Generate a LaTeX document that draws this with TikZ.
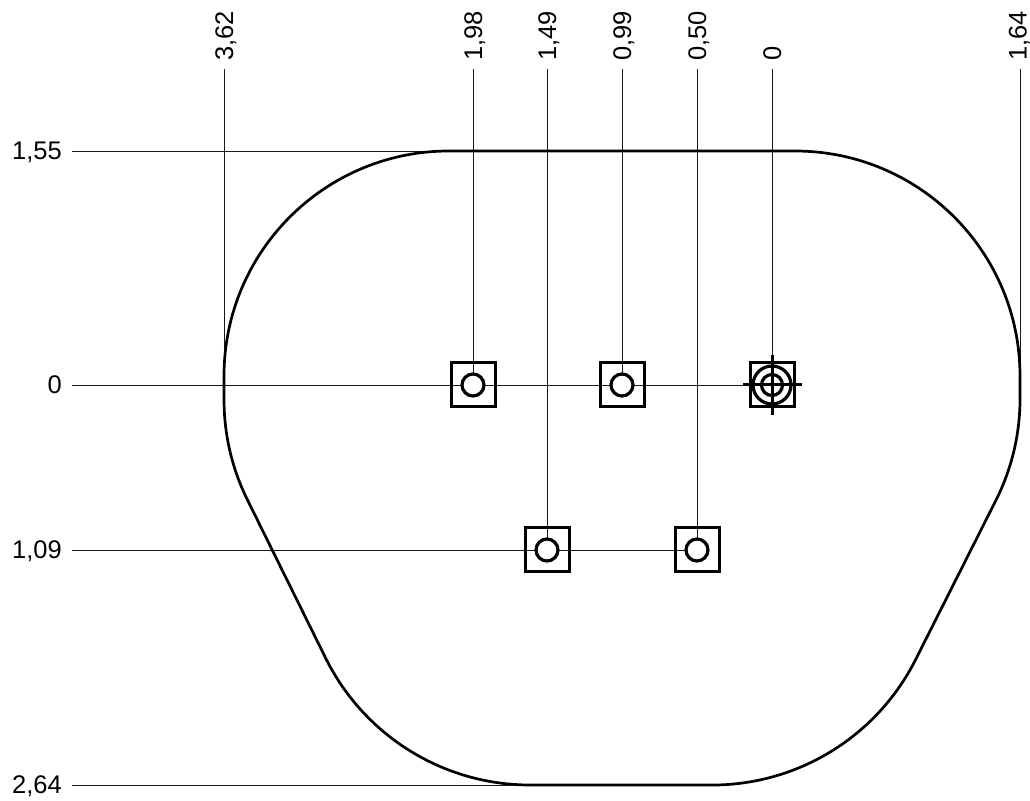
\documentclass[tikz,border=0pt]{standalone}
\usepackage{fontspec}
\setmainfont{Liberation Sans}
\usetikzlibrary{positioning, backgrounds}
\tikzset{
    outline/.style={
        draw=black,
        line width=2.7pt,
        line join=round
    },
    leader/.style={
        draw=black!90,
        line width=0.9pt
    },
    crossline/.style={
        draw=black,
        line width=3pt
    },
    holebox/.style={
        rectangle,
        draw=black,
        line width=3pt,
        minimum size=44pt,
        inner sep=0pt
    },
    holecircle/.style={
        circle,
        draw=black,
        fill=white,
        line width=3.2pt,
        minimum size=22pt,
        inner sep=0pt
    },
    toplabel/.style={
        rotate=90,
        anchor=west,
        inner xsep=8pt,
        inner ysep=0pt,
        text height=18pt,
        text depth=0pt,
        font=\fontsize{25.5}{25.5}\selectfont
    },
    sidelabel/.style={
        anchor=east,
        inner xsep=10pt,
        inner ysep=0pt,
        text height=18pt,
        text depth=0pt,
        font=\fontsize{25.5}{25.5}\selectfont
    }
}
\begin{document}
\begin{tikzpicture}[x=1pt, y=1pt]
\useasboundingbox (0,0) rectangle (1030,800);

% Part outline
\draw[outline] (449,649) -- (795,649)
    arc[start angle=90, end angle=0, radius=225pt] -- (1020,401)
    arc[start angle=0, end angle=-26.565, radius=225pt] -- (915.9,141)
    arc[start angle=-26.565, end angle=-90, radius=228pt] -- (530,15)
    arc[start angle=270, end angle=206.565, radius=228pt] -- (247.8,299.4)
    arc[start angle=206.565, end angle=180, radius=225pt] -- (224,424)
    arc[start angle=180, end angle=90, radius=225pt] -- cycle;

% Holes
\node[holebox] (hole_a) at (473,415) {};
\node[holecircle] (circ_a) at (473,415) {};
\node[holebox] (hole_b) at (622,415) {};
\node[holecircle] (circ_b) at (622,415) {};
\node[holebox] (hole_c) at (772,415) {};
\node[holebox] (hole_d) at (547,250) {};
\node[holecircle] (circ_d) at (547,250) {};
\node[holebox] (hole_e) at (697,250) {};
\node[holecircle] (circ_e) at (697,250) {};

% Origin mark
\node[holecircle, minimum size=38pt] (origin_out) at (772,415) {};
\node[holecircle, minimum size=21pt] (origin_in) at (772,415) {};
\coordinate (cross_w) at (743,415);
\coordinate (cross_e) at (802,415);
\coordinate (cross_n) at (772,445);
\coordinate (cross_s) at (772,385);
\draw[crossline] (cross_w) -- (cross_e);
\draw[crossline] (cross_n) -- (cross_s);

% Edge points
\coordinate (edge_left) at (224,415);
\coordinate (edge_right) at (1020,415);
\coordinate (edge_top) at (449,649);
\coordinate (edge_bottom) at (530,15);

% Top labels
\node[toplabel] (x_362) at (224,731) {3,62};
\node[toplabel] (x_198) at (473,731) {1,98};
\node[toplabel] (x_149) at (547,731) {1,49};
\node[toplabel] (x_099) at (622,731) {0,99};
\node[toplabel] (x_050) at (697,731) {0,50};
\node[toplabel] (x_0) at (772,731) {0};
\node[toplabel] (x_164) at (1017.5,731) {1,64};

% Side labels
\node[sidelabel] (y_155) at (72,649) {1,55};
\node[sidelabel] (y_0) at (72,415) {0};
\node[sidelabel] (y_109) at (72,250) {1,09};
\node[sidelabel] (y_264) at (72,15) {2,64};

% Leaders
\begin{scope}[on background layer]
\draw[leader] (x_362.west) -- (edge_left);
\draw[leader] (x_198.west) -- (circ_a.center);
\draw[leader] (x_149.west) -- (circ_d.center);
\draw[leader] (x_099.west) -- (circ_b.center);
\draw[leader] (x_050.west) -- (circ_e.center);
\draw[leader] (x_0.west) -- (origin_in.center);
\draw[leader] (x_164.west -| edge_right) -- (edge_right);
\draw[leader] (y_155.east) -- (edge_top);
\draw[leader] (y_0.east) -- (origin_in.center);
\draw[leader] (y_109.east) -- (circ_e.center);
\draw[leader] (y_264.east) -- (edge_bottom);
\end{scope}

\end{tikzpicture}
\end{document}
